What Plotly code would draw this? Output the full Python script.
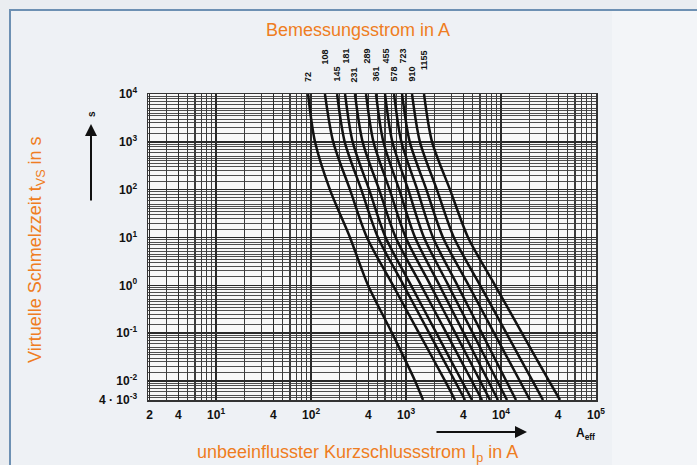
import numpy as np
import plotly.graph_objects as go

# ---- data ----
ratings = [72, 108, 145, 181, 231, 289, 361, 455, 578, 723, 910, 1155]
times = [1e4, 1e3, 1e2, 1e1, 1, 0.1, 0.01, 0.004]

I72 = [93, 110, 158, 257, 398, 713, 1245, 1510]
I108 = [140, 171, 257, 388, 729, 1370, 2575, 3280]
I145 = [188, 226, 338, 507, 944, 1754, 3266, 4180]
I181 = [228, 274, 409, 610, 1129, 2090, 3865, 4950]
I231 = [290, 349, 521, 778, 1439, 2663, 4930, 6310]
I289 = [379, 454, 671, 993, 1811, 3304, 6026, 7660]
I361 = [483, 577, 848, 1245, 2249, 4055, 7330, 9290]
I455 = [601, 718, 1055, 1546, 2790, 5045, 9120, 11560]
I578 = [748, 893, 1312, 1923, 3475, 6280, 11350, 14380]
I723 = [908, 1094, 1637, 2449, 4560, 8470, 15780, 20180]
I910 = [1156, 1400, 2113, 3191, 6026, 11380, 21480, 27670]
I1155 = [1546, 1879, 2904, 4497, 8650, 16630, 32000, 41780]
curves = [I72, I108, I145, I181, I231, I289, I361, I455, I578, I723, I910, I1155]

x_tickvals = [2, 4, 10, 40, 100, 400, 1000, 4000, 1e4, 4e4, 1e5]
x_ticktext = ["2", "4", "10<sup>1</sup>", "4", "10<sup>2</sup>", "4", "10<sup>3</sup>",
              "4", "10<sup>4</sup>", "4", "10<sup>5</sup>"]
y_tickvals = [1e4, 1e3, 1e2, 1e1, 1, 0.1, 0.01, 0.004]
y_ticktext = ["10<sup>4</sup>", "10<sup>3</sup>", "10<sup>2</sup>", "10<sup>1</sup>",
              "10<sup>0</sup>", "10<sup>-1</sup>", "10<sup>-2</sup>", "4 · 10<sup>-3</sup>"]
label_upper = [False, True, False, True, False, True, False, True, False, True, False, True]

ORANGE = "#ef7d22"
GRID = "#3c3c3c"

# grid positions
x_minor = [d * 10 ** k for k in range(0, 5) for d in range(1, 10)] + [1e5]
y_minor = [m * 10.0 ** k for k in range(-3, 4)
           for m in [1, 1.5, 2, 2.5, 3, 3.5, 4, 4.5, 5, 6, 7, 8, 9]]
y_minor = [v for v in y_minor if 0.004 <= v <= 1e4] + [1e4]

fig = go.Figure()
for I in curves:
    fig.add_trace(go.Scatter(x=I, y=times, mode="lines",
                             line=dict(color="#111111", width=2.5, shape="spline", smoothing=0.8),
                             hoverinfo="skip", showlegend=False))

W, H = 697, 465
L, R, T, B = 148, 101, 94, 65
pw, ph = W - L - R, H - T - B


def px(xp):
    return (xp - L) / pw


def py(yp):
    return (H - B - yp) / ph


TICKFONT = dict(size=12, color="#111111", family="Liberation Sans, Arial, sans-serif")

fig.update_layout(
    width=W, height=H,
    margin=dict(l=L, r=R, t=T, b=B, autoexpand=False),
    paper_bgcolor="#eaedf1",
    plot_bgcolor="#f8f8f8",
    font=dict(family="Liberation Sans, Arial, sans-serif", color="#111111"),
    xaxis=dict(type="log", range=[np.log10(1.92), 5], tickmode="array",
               tickvals=x_tickvals, ticktext=[f"<b>{t}</b>" for t in x_ticktext], ticks="",
               showgrid=True, gridcolor="#2a2a2a", gridwidth=1.3,
               minor=dict(tickmode="array", tickvals=x_minor, showgrid=True,
                          gridcolor=GRID, gridwidth=1.2, ticks=""),
               showline=True, linecolor="#333333", linewidth=1.5, mirror=True,
               zeroline=False, ticklabelstandoff=3, automargin=False,
               tickfont=TICKFONT),
    yaxis=dict(type="log", range=[np.log10(0.004), 4], tickmode="array",
               tickvals=y_tickvals, ticktext=[f"<b>{t}</b>" for t in y_ticktext], ticks="",
               showgrid=True, gridcolor="#2a2a2a", gridwidth=1.4,
               minor=dict(tickmode="array", tickvals=y_minor, showgrid=True,
                          gridcolor=GRID, gridwidth=0.9, ticks=""),
               showline=True, linecolor="#333333", linewidth=1.5, mirror=True,
               zeroline=False, ticklabelstandoff=7, automargin=False,
               tickfont=TICKFONT),
)

shapes = [
    dict(type="rect", xref="paper", yref="paper", layer="below",
         x0=px(10), x1=px(720), y0=py(490), y1=py(10),
         fillcolor="#eef1f5", line=dict(color="#6d90b3", width=2)),
    dict(type="rect", xref="paper", yref="paper", layer="below",
         x0=px(612), x1=px(720), y0=py(490), y1=py(11),
         fillcolor="#f3f5f8", line=dict(width=0)),
    dict(type="rect", xref="paper", yref="paper", layer="below",
         x0=0, x1=1, y0=0, y1=1, fillcolor="#f8f8f8", line=dict(width=0)),
]
fig.update_layout(shapes=shapes)


def label(text, xp, yp, size, color, angle=0, bold=False):
    return dict(text=f"<b>{text}</b>" if bold else text, xref="paper", yref="paper",
                x=px(xp), y=py(yp), xanchor="center", yanchor="middle",
                showarrow=False, textangle=angle, font=dict(size=size, color=color))


ann = [
    label("Bemessungsstrom in A", 358, 30, 18, ORANGE),
    label("unbeeinflusster Kurzschlussstrom I<sub>p</sub> in A", 357, 453, 18, ORANGE),
    label("Virtuelle Schmelzzeit t<sub>VS</sub> in s", 36, 250, 18, ORANGE, angle=-90),
    label("A<sub>eff</sub>", 585, 434, 12, "#111111", bold=True),
    label("s", 91, 114, 10, "#111111", angle=-90, bold=True),
    dict(text="", xref="paper", yref="paper", x=px(527), y=py(432),
         ax=-92, ay=0, showarrow=True, arrowhead=2, arrowsize=1.2,
         arrowwidth=2, arrowcolor="#111111"),
    dict(text="", xref="paper", yref="paper", x=px(91), y=py(124),
         ax=0, ay=78, showarrow=True, arrowhead=2, arrowsize=1.2,
         arrowwidth=2, arrowcolor="#111111"),
]

for r, I, up in zip(ratings, curves, label_upper):
    bottom = 66 if up else 84
    if r == 1155:
        bottom = 72
    ann.append(dict(text=f"<b>{r}</b>", xref="x", yref="paper",
                    x=np.log10(I[0]), y=py(bottom), yanchor="bottom", xanchor="center",
                    showarrow=False, textangle=-90,
                    font=dict(size=9, color="#111111")))

fig.update_layout(annotations=ann)

fig.write_html("out.html",
               config={"displayModeBar": False, "staticPlot": True},
               post_script="document.body.style.margin='0px';"
                           "document.body.style.background='#eaedf1';"
                           "document.body.style.overflow='hidden';")
